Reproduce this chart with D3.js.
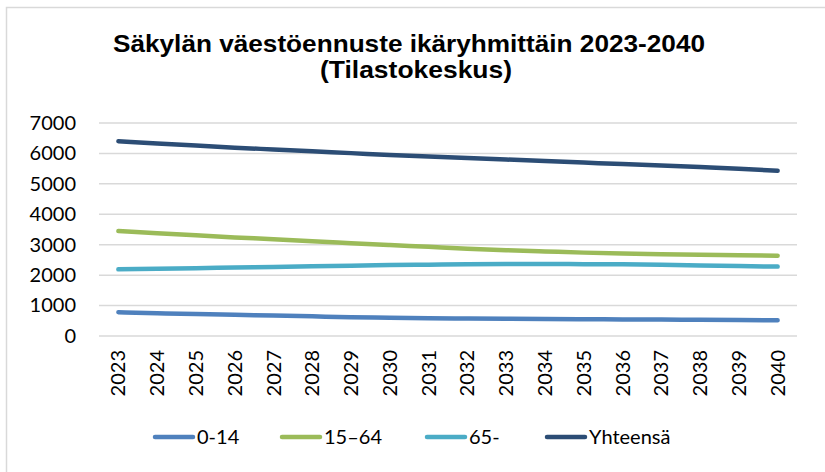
<!DOCTYPE html>
<html>
<head>
<meta charset="utf-8">
<script src="https://cdn.jsdelivr.net/npm/d3@7"></script>
<style>
  body { margin: 0; background: #fff; }
  svg { display: block; }
</style>
</head>
<body>
<div id="chart"></div>
<script>
// Data
const years = ["2023","2024","2025","2026","2027","2028","2029","2030","2031","2032","2033","2034","2035","2036","2037","2038","2039","2040"];
const age0_14 = [780, 750, 720, 695, 670, 645, 620, 600, 585, 575, 565, 555, 550, 545, 540, 530, 525, 515];
const age15_64 = [3450, 3380, 3310, 3240, 3180, 3110, 3050, 2990, 2930, 2870, 2820, 2780, 2740, 2710, 2690, 2670, 2650, 2640];
const age65 = [2190, 2210, 2230, 2250, 2270, 2290, 2310, 2330, 2345, 2360, 2365, 2365, 2360, 2355, 2340, 2320, 2300, 2280];
const total = [6400, 6330, 6260, 6190, 6130, 6070, 6010, 5950, 5900, 5850, 5800, 5750, 5700, 5650, 5600, 5550, 5500, 5430];
const yTicks = [0, 1000, 2000, 3000, 4000, 5000, 6000, 7000];

const series = [
  { name: "0-14", values: age0_14, color: "#4f81bd" },
  { name: "15\u201364", values: age15_64, color: "#9bbb59" },
  { name: "65-", values: age65, color: "#4bacc6" },
  { name: "Yhteensä", values: total, color: "#2c4d75" }
];

const width = 825;
const height = 472;
const margin = { top: 123, right: 28, bottom: 136, left: 99 };
const labelFont = "Lato, 'Open Sans', sans-serif";

const svg = d3.select("#chart")
  .append("svg")
  .attr("width", width)
  .attr("height", height);

// chart frame
svg.append("rect")
  .attr("x", 6.5)
  .attr("y", 7.5)
  .attr("width", width + 20)
  .attr("height", height + 20)
  .attr("fill", "none")
  .attr("stroke", "#d9d9d9")
  .attr("stroke-width", 1.5);

// Title (source font is a bit narrower, so squeeze to the measured width)
const title = svg.append("text")
  .attr("text-anchor", "middle")
  .style("font-family", "'Liberation Sans', Arial, sans-serif")
  .style("font-weight", "bold")
  .style("font-size", "24px")
  .style("fill", "#000");
title.append("tspan").attr("x", 409).attr("y", 52)
  .attr("textLength", 592).attr("lengthAdjust", "spacingAndGlyphs")
  .text("Säkylän väestöennuste ikäryhmittäin 2023-2040");
title.append("tspan").attr("x", 416).attr("y", 78)
  .attr("textLength", 192).attr("lengthAdjust", "spacingAndGlyphs")
  .text("(Tilastokeskus)");

// Scales
const x = d3.scaleBand()
  .domain(years)
  .range([margin.left, width - margin.right]);

const y = d3.scaleLinear()
  .domain([0, 7000])
  .range([height - margin.bottom, margin.top]);

// Gridlines
svg.append("g")
  .selectAll("line")
  .data(yTicks)
  .join("line")
  .attr("x1", margin.left)
  .attr("x2", width - margin.right)
  .attr("y1", d => y(d))
  .attr("y2", d => y(d))
  .attr("stroke", "#d9d9d9")
  .attr("stroke-width", 1.5);

// Y axis
const yAxis = svg.append("g")
  .attr("transform", `translate(${margin.left - 23},0)`)
  .call(d3.axisLeft(y).tickValues(yTicks).tickSize(0).tickPadding(0).tickFormat(d3.format("d")));
yAxis.select(".domain").remove();
yAxis.selectAll("text")
  .style("font-family", labelFont)
  .style("font-size", "20px")
  .attr("fill", "#000");

// X axis (rotated year labels)
const xAxis = svg.append("g")
  .attr("transform", `translate(0,${height - margin.bottom})`)
  .call(d3.axisBottom(x).tickSize(0));
xAxis.select(".domain").remove();
xAxis.selectAll("text")
  .style("font-family", labelFont)
  .style("font-size", "20px")
  .attr("fill", "#000")
  .attr("text-anchor", "end")
  .attr("transform", "rotate(-90)")
  .attr("x", -14)
  .attr("y", 0)
  .attr("dy", "0.35em");

// Lines
const line = d3.line()
  .x((d, i) => x(years[i]) + x.bandwidth() / 2)
  .y(d => y(d))
  .curve(d3.curveMonotoneX);

svg.append("g")
  .selectAll("path")
  .data(series)
  .join("path")
  .attr("d", d => line(d.values))
  .attr("fill", "none")
  .attr("stroke", d => d.color)
  .attr("stroke-width", 4.5)
  .attr("stroke-linecap", "round")
  .attr("stroke-linejoin", "round");

// Legend
const legendX = [155, 282, 427, 547];
const legend = svg.append("g")
  .selectAll("g")
  .data(series)
  .join("g")
  .attr("transform", (d, i) => `translate(${legendX[i]},437)`);

legend.append("line")
  .attr("x1", 0)
  .attr("x2", 38)
  .attr("stroke", d => d.color)
  .attr("stroke-width", 4.5)
  .attr("stroke-linecap", "round");

legend.append("text")
  .attr("x", 42)
  .attr("dy", "0.35em")
  .style("font-family", labelFont)
  .style("font-size", "20px")
  .attr("fill", "#000")
  .text(d => d.name);
</script>
</body>
</html>
